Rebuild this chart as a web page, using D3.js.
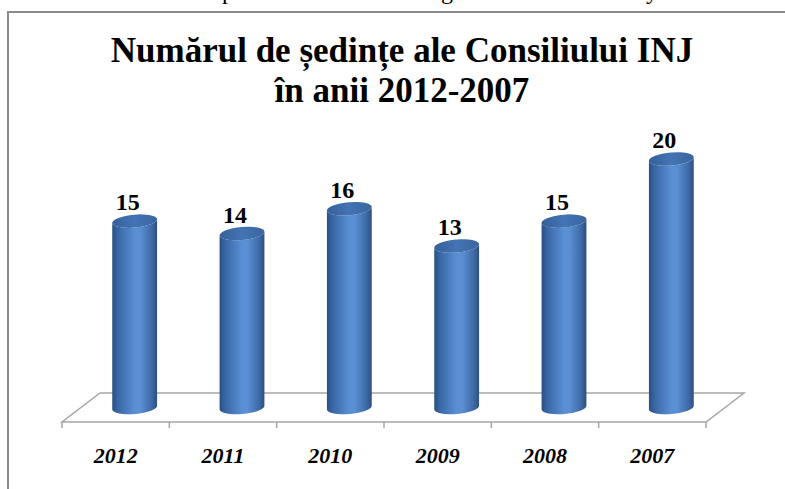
<!doctype html>
<html>
<head>
<meta charset="UTF-8">
<title>Numărul de ședințe</title>
<script src="https://cdn.jsdelivr.net/npm/d3@7"></script>
<style>
  body { margin: 0; background: #fff; }
  svg { display: block; }
</style>
</head>
<body>
<svg id="chart" width="785" height="489"></svg>
<script>
    var years = ["2012", "2011", "2010", "2009", "2008", "2007"];
    var sedinte = [15, 14, 16, 13, 15, 20];
    var titleLines = ["Numărul de ședințe ale Consiliului INJ", "în anii 2012-2007"];

    var svg = d3.select("#chart");
    var serif = "'Liberation Serif', serif";

    // bits of the text line above the frame (cut off)
    var cut = [["p", 228], ["g", 447], ["y", 652]];
    svg.selectAll("text.cut").data(cut).enter().append("text")
        .attr("class", "cut")
        .attr("x", function (d) { return d[1]; })
        .attr("y", -1)
        .attr("text-anchor", "middle")
        .attr("font-family", serif)
        .attr("font-size", 24)
        .text(function (d) { return d[0]; });

    // frame of the chart
    svg.append("path")
        .attr("d", "M8,489 L8,12 L785,12")
        .attr("fill", "none")
        .attr("stroke", "#8c8c8c")
        .attr("stroke-width", 2);

    // title
    svg.selectAll("text.title").data(titleLines).enter().append("text")
        .attr("class", "title")
        .attr("x", 402)
        .attr("y", function (d, i) { return 62 + i * 40; })
        .attr("text-anchor", "middle")
        .attr("font-family", serif)
        .attr("font-weight", "bold")
        .attr("font-size", 35)
        .text(function (d) { return d; });

    // scales
    var front = 422, dx = 38, dy = -29;
    var x = d3.scaleBand().domain(years).range([62, 706]).padding(0);
    var y = d3.scaleLinear().domain([0, 20]).range([front + dy / 2, 159]);

    // floor
    var x0 = x.range()[0], x1 = x.range()[1];
    svg.append("path")
        .attr("d", "M" + x0 + "," + front + " L" + x1 + "," + front +
            " L" + (x1 + dx) + "," + (front + dy) + " L" + (x0 + dx) + "," + (front + dy) + " Z")
        .attr("fill", "#fff")
        .attr("stroke", "#a6a6a6")
        .attr("stroke-width", 1.5);

    // ticks on front edge
    var ticks = years.map(function (d) { return x(d); }).concat([x1]);
    svg.selectAll("line.tick").data(ticks).enter().append("line")
        .attr("class", "tick")
        .attr("x1", function (d) { return d; })
        .attr("x2", function (d) { return d; })
        .attr("y1", front)
        .attr("y2", front + 6)
        .attr("stroke", "#a6a6a6")
        .attr("stroke-width", 1.5);

    // gradients for the cylinders
    var defs = svg.append("defs");
    var g1 = defs.append("linearGradient").attr("id", "body").attr("x1", "0").attr("x2", "1").attr("y1", "0").attr("y2", "0");
    [[0, "#2a4f82"], [0.12, "#3866a4"], [0.5, "#5a8fd4"], [0.62, "#5b8fd3"], [0.88, "#3e6aa6"], [1, "#2b4f80"]].forEach(function (s) {
        g1.append("stop").attr("offset", s[0]).attr("stop-color", s[1]);
    });
    var g2 = defs.append("linearGradient").attr("id", "top").attr("x1", "0").attr("x2", "1").attr("y1", "0").attr("y2", "0");
    [[0, "#355f99"], [0.5, "#4474b5"], [1, "#3a659f"]].forEach(function (s) {
        g2.append("stop").attr("offset", s[0]).attr("stop-color", s[1]);
    });

    var rx = 22.5, ry = 6.5, rot = -5;
    var ex = rx * Math.cos(rot * Math.PI / 180), ey = rx * Math.sin(rot * Math.PI / 180);

    function cx(d) { return x(d) + x.bandwidth() / 2 + dx / 2; }

    var bars = svg.selectAll("g.bar").data(years).enter().append("g").attr("class", "bar");

    bars.append("path")
        .attr("d", function (d, i) {
            var c = cx(d), yt = y(sedinte[i]), yb = y(0);
            return "M" + (c - ex) + "," + (yt - ey) +
                " L" + (c - ex) + "," + (yb - ey) +
                " A" + rx + "," + ry + " " + rot + " 0 0 " + (c + ex) + "," + (yb + ey) +
                " L" + (c + ex) + "," + (yt + ey) +
                " A" + rx + "," + ry + " " + rot + " 0 1 " + (c - ex) + "," + (yt - ey) + " Z";
        })
        .attr("fill", "url(#body)");

    bars.append("ellipse")
        .attr("cx", function (d) { return cx(d); })
        .attr("cy", function (d, i) { return y(sedinte[i]); })
        .attr("rx", rx)
        .attr("ry", ry)
        .attr("transform", function (d, i) { return "rotate(" + rot + "," + cx(d) + "," + y(sedinte[i]) + ")"; })
        .attr("fill", "url(#top)");

    // value labels
    bars.append("text")
        .attr("x", function (d) { return cx(d) - 7; })
        .attr("y", function (d, i) { return y(sedinte[i]) - 11; })
        .attr("text-anchor", "middle")
        .attr("font-family", serif)
        .attr("font-weight", "bold")
        .attr("font-size", 24)
        .text(function (d, i) { return sedinte[i]; });

    // category labels
    svg.selectAll("text.cat").data(years).enter().append("text")
        .attr("class", "cat")
        .attr("x", function (d) { return x(d) + x.bandwidth() / 2; })
        .attr("y", 463)
        .attr("text-anchor", "middle")
        .attr("font-family", serif)
        .attr("font-weight", "bold")
        .attr("font-style", "italic")
        .attr("font-size", 22)
        .text(function (d) { return d; });
</script>
</body>
</html>
